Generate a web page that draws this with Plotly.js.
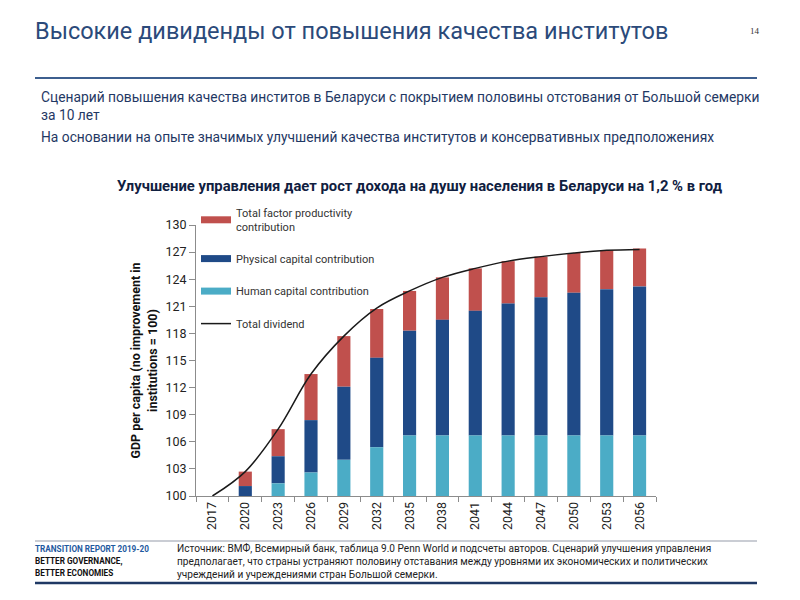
<!DOCTYPE html>
<html>
<head>
<meta charset="utf-8">
<script src="https://cdn.plot.ly/plotly-3.0.1.min.js"></script>
<style>
  html, body { margin: 0; padding: 0; background: #fff; }
  #chart { width: 800px; height: 600px; }
</style>
</head>
<body>
<div id="chart"></div>
<script>
// data
const years = ['2017', '2020', '2023', '2026', '2029', '2032', '2035', '2038', '2041', '2044', '2047', '2050', '2053', '2056'];
const humanCapital = [0, 0, 1.4, 2.6, 4.0, 5.4, 6.7, 6.7, 6.7, 6.7, 6.7, 6.7, 6.7, 6.7];
const physicalCapital = [0, 1.1, 3.0, 5.8, 8.1, 9.9, 11.6, 12.8, 13.8, 14.6, 15.3, 15.8, 16.2, 16.5];
const tfp = [0, 1.6, 3.0, 5.1, 5.6, 5.4, 4.4, 4.7, 4.7, 4.7, 4.5, 4.4, 4.3, 4.2];
const totalDividend = [100, 102.7, 107.4, 113.5, 117.7, 120.8, 122.7, 124.2, 125.2, 126.0, 126.5, 126.9, 127.2, 127.3];
const yTicks = [100, 103, 106, 109, 112, 115, 118, 121, 124, 127, 130];

const seriesNames = ['Total factor productivity<br>contribution', 'Physical capital contribution',
                     'Human capital contribution', 'Total dividend'];
const seriesColors = ['#c0504d', '#1f4a87', '#4bacc6', '#1a1a1a'];

const baseline = 100;
// bars start at the baseline and sit on each other
let basePhys = humanCapital.map(h => baseline + h);
let baseTfp = humanCapital.map((h, i) => baseline + h + physicalCapital[i]);

// plot area in page pixels, used to place the slide text
const L = 196, R = 656, T = 225, B = 496;
function px(x) { return (x - L) / (R - L); }
function py(y) { return (B - y) / (B - T); }

const navy = '#1f3864';
const font = 'Roboto, "Noto Sans", sans-serif';

let traces = [
  {type: 'bar', x: years, y: tfp, base: baseTfp, marker: {color: seriesColors[0]}, showlegend: false},
  {type: 'bar', x: years, y: physicalCapital, base: basePhys, marker: {color: seriesColors[1]}, showlegend: false},
  {type: 'bar', x: years, y: humanCapital, base: humanCapital.map(() => baseline),
   marker: {color: seriesColors[2]}, showlegend: false},
  {
    type: 'scatter', mode: 'lines', name: seriesNames[3],
    x: years, y: totalDividend,
    line: {color: seriesColors[3], width: 1.5, shape: 'spline', smoothing: 1},
    showlegend: false
  }
];

// legend entries drawn as flat swatches like the original (legend only, no data)
seriesNames.forEach((name, i) => {
  traces.push({
    type: 'scatter', mode: 'lines', name: name, x: [null], y: [null],
    line: {color: seriesColors[i], width: i < 3 ? 7 : 1.5},
    legendgroup: 'g' + i
  });
});

function txt(text, x, y, opts) {
  return Object.assign({
    text: text, xref: 'paper', yref: 'paper', x: px(x), y: py(y),
    xanchor: 'left', yanchor: 'middle', showarrow: false, align: 'left'
  }, opts);
}

let annotations = [
  txt('Высокие дивиденды от повышения качества институтов', 33, 31,
      {font: {family: font, size: 23.5, color: '#2b4a7a'}}),
  txt('14', 748, 31, {font: {family: '"Liberation Serif", serif', size: 9, color: '#333'}}),
  txt('Сценарий повышения качества инститов в Беларуси с покрытием половины отстования от Большой семерки', 39, 97,
      {font: {family: font, size: 13.8, color: navy}}),
  txt('за 10 лет', 39, 115, {font: {family: font, size: 13.8, color: navy}}),
  txt('На основании на опыте значимых улучшений качества институтов и консервативных предположениях', 39, 137,
      {font: {family: font, size: 13.8, color: navy}}),
  txt('<b>Улучшение управления дает рост дохода на душу населения в Беларуси на 1,2 % в год</b>', 420, 186,
      {xanchor: 'center', font: {family: font, size: 14.8, color: '#10203f'}}),
  txt('<b>TRANSITION REPORT 2019-20</b>', 33, 549, {font: {family: font, size: 8.2, color: '#1f5aa0'}}),
  txt('<b>BETTER GOVERNANCE,</b>', 33, 561, {font: {family: font, size: 8.2, color: '#111'}}),
  txt('<b>BETTER ECONOMIES</b>', 33, 573, {font: {family: font, size: 8.2, color: '#111'}}),
  txt('Источник: ВМФ, Всемирный банк, таблица 9.0 Penn World и подсчеты авторов. Сценарий улучшения управления', 175, 548,
      {font: {family: font, size: 10.1, color: '#222'}}),
  txt('предполагает, что страны устраняют половину отставания между уровнями их экономических и политических', 175, 561,
      {font: {family: font, size: 10.1, color: '#222'}}),
  txt('учреждений и учреждениями стран Большой семерки.', 175, 574,
      {font: {family: font, size: 10.1, color: '#222'}})
];

function hline(y, x0, x1, color, width) {
  return {type: 'line', xref: 'paper', yref: 'paper', x0: px(x0), x1: px(x1), y0: py(y), y1: py(y),
          line: {color: color, width: width}};
}

let shapes = [
  hline(78, 35, 757, '#3d5f8f', 2),
  hline(541, 35, 757, '#b9bdc6', 1.5),
  hline(583, 35, 757, navy, 2.5)
];

let layout = {
  width: 800, height: 600,
  margin: {l: L, r: 800 - R, t: T, b: 600 - B, pad: 0},
  paper_bgcolor: 'white', plot_bgcolor: 'white',
  barmode: 'overlay', bargap: 0.6,
  showlegend: true,
  legend: {
    x: px(196), y: py(199), xanchor: 'left', yanchor: 'top',
    traceorder: 'grouped', tracegroupgap: 13.5,
    font: {family: font, size: 11, color: '#333'},
    bgcolor: 'rgba(0,0,0,0)', itemwidth: 30
  },
  xaxis: {
    type: 'category', tickangle: -90,
    ticks: 'outside', tickson: 'boundaries', ticklen: 5, tickcolor: '#8c8c8c',
    showline: true, linecolor: '#8c8c8c', linewidth: 1,
    showgrid: false, zeroline: false,
    tickfont: {family: font, size: 12.5, color: '#222'}
  },
  yaxis: {
    range: [100, 130], tickvals: yTicks,
    ticks: 'outside', ticklen: 6, tickcolor: '#8c8c8c',
    showline: true, linecolor: '#8c8c8c', linewidth: 1,
    showgrid: false, zeroline: false,
    tickfont: {family: font, size: 12.5, color: '#222'},
    title: {
      text: '<b>GDP per capita (no improvement in<br>institutions = 100)</b>',
      font: {family: font, size: 12.5, color: '#111'}, standoff: 5
    }
  },
  annotations: annotations,
  shapes: shapes
};

Plotly.newPlot('chart', traces, layout, {displayModeBar: false, staticPlot: true});
</script>
</body>
</html>
